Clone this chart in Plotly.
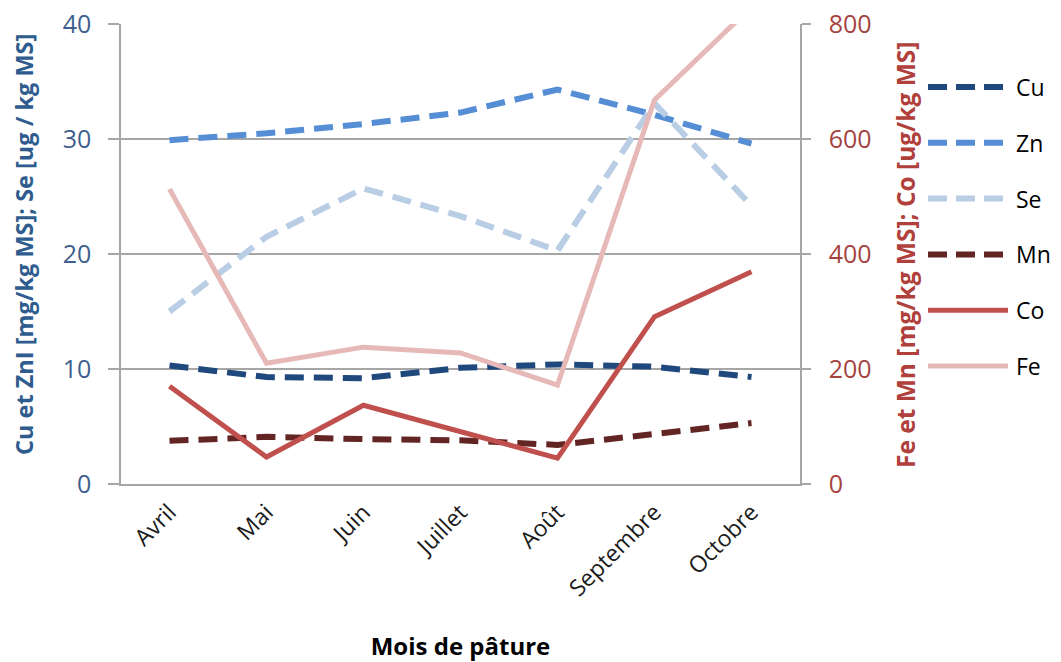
import plotly.graph_objects as go

months = ["Avril", "Mai", "Juin", "Juillet", "Août", "Septembre", "Octobre"]
cu = [10.3, 9.3, 9.2, 10.1, 10.4, 10.2, 9.3]
zn = [29.9, 30.5, 31.3, 32.3, 34.3, 32.1, 29.6]
se = [15.0, 21.5, 25.7, 23.3, 20.3, 33.1, 24.2]
mn = [75, 82, 78, 76, 68, 88, 106]
co = [170, 47, 137, 90, 45, 291, 369]
fe = [513, 210, 238, 228, 172, 668, 830]

left_ticks = [0, 10, 20, 30, 40]
right_ticks = [0, 200, 400, 600, 800]

FONT = "Open Sans"
GRID = "#A6A6A6"
DASH = "19px,10px"

series = [
    ("Cu", cu, "#1F497D", DASH, 6, "y"),
    ("Zn", zn, "#558ED5", DASH, 6, "y"),
    ("Se", se, "#B9CDE5", DASH, 6, "y"),
    ("Mn", mn, "#632523", DASH, 6, "y2"),
    ("Co", co, "#C0504D", "solid", 5, "y2"),
    ("Fe", fe, "#E6B9B8", "solid", 5, "y2"),
]

fig = go.Figure()
for name, y, color, dash, width, axis in series:
    fig.add_trace(go.Scatter(
        x=months, y=y, name=name, mode="lines", yaxis=axis,
        line=dict(color=color, dash=dash, width=width),
        showlegend=False,
    ))

# plot area at x 121..800, y 24..484 (page body margin removed via post_script)
PX0, PW, PY0, PH = 121, 679, 24, 460
def px_x(p):
    return (p - PX0) / PW
def px_y(p):
    return (PY0 + PH - p) / PH

shapes = []
annotations = []
leg_top, leg_step = 87, 55.8
for i, (name, y, color, dash, width, axis) in enumerate(series):
    yy = px_y(leg_top + i * leg_step)
    shapes.append(dict(type="line", xref="paper", yref="paper",
                       x0=px_x(928), x1=px_x(1008), y0=yy, y1=yy,
                       line=dict(color=color, width=width, dash=dash if dash == "solid" else "19px,9px")))
    annotations.append(dict(text=name, xref="paper", yref="paper", x=px_x(1014), y=yy,
                            xanchor="left", yanchor="middle", showarrow=False,
                            font=dict(size=23, color="#000000", family=FONT)))

annotations += [
    dict(text="<b>Cu et ZnI [mg/kg MS]; Se [ug / kg MS]</b>", textangle=-90,
         xref="paper", yref="paper", x=px_x(24), y=px_y(245), xanchor="center", yanchor="middle",
         showarrow=False, font=dict(size=23.5, color="#2E5C8E", family=FONT)),
    dict(text="<b>Fe et Mn [mg/kg MS]; Co [ug/kg MS]</b>", textangle=-90,
         xref="paper", yref="paper", x=px_x(905), y=px_y(255), xanchor="center", yanchor="middle",
         showarrow=False, font=dict(size=24.5, color="#B0403B", family=FONT)),
]

fig.update_layout(
    width=1061, height=662,
    margin=dict(l=121, r=261, t=24, b=178, autoexpand=False),
    paper_bgcolor="white", plot_bgcolor="white",
    font=dict(family=FONT, size=20, color="#000000"),
    showlegend=False,
    xaxis=dict(
        type="category", tickangle=-45, automargin=False,
        tickfont=dict(size=23, color="#1A1A1A"),
        showgrid=False, showline=True, linecolor=GRID, linewidth=1.5,
        ticks="outside", ticklen=4, tickcolor="rgba(0,0,0,0)",
        range=[-0.5, 6.5], ticklabeloverflow="allow",
        title=dict(text="<b>Mois de pâture</b>", font=dict(size=24, color="#000"), standoff=40),
    ),
    yaxis=dict(
        range=[0, 40], tickvals=left_ticks, ticktext=[str(v) for v in left_ticks],
        tickfont=dict(size=25, color="#3E5F8E"), automargin=False,
        showgrid=True, gridcolor=GRID, gridwidth=1.5,
        showline=True, linecolor=GRID, linewidth=1.5,
        ticks="outside", ticklen=11, tickcolor=GRID, tickwidth=1.5,
        ticklabelstandoff=12, ticklabeloverflow="allow",
        zeroline=False,
    ),
    yaxis2=dict(
        range=[0, 800], tickvals=right_ticks, ticktext=[str(v) for v in right_ticks],
        overlaying="y", side="right", automargin=False,
        tickfont=dict(size=25, color="#A5433F"),
        showgrid=False,
        showline=True, linecolor=GRID, linewidth=1.5,
        ticks="outside", ticklen=9, tickcolor=GRID, tickwidth=1.5,
        ticklabelstandoff=13, ticklabeloverflow="allow",
        zeroline=False,
    ),
    shapes=shapes,
    annotations=annotations,
)

fig.write_html(
    "out.html",
    config={"displayModeBar": False},
    post_script="document.body.style.margin='0';document.body.style.overflow='hidden';",
)
